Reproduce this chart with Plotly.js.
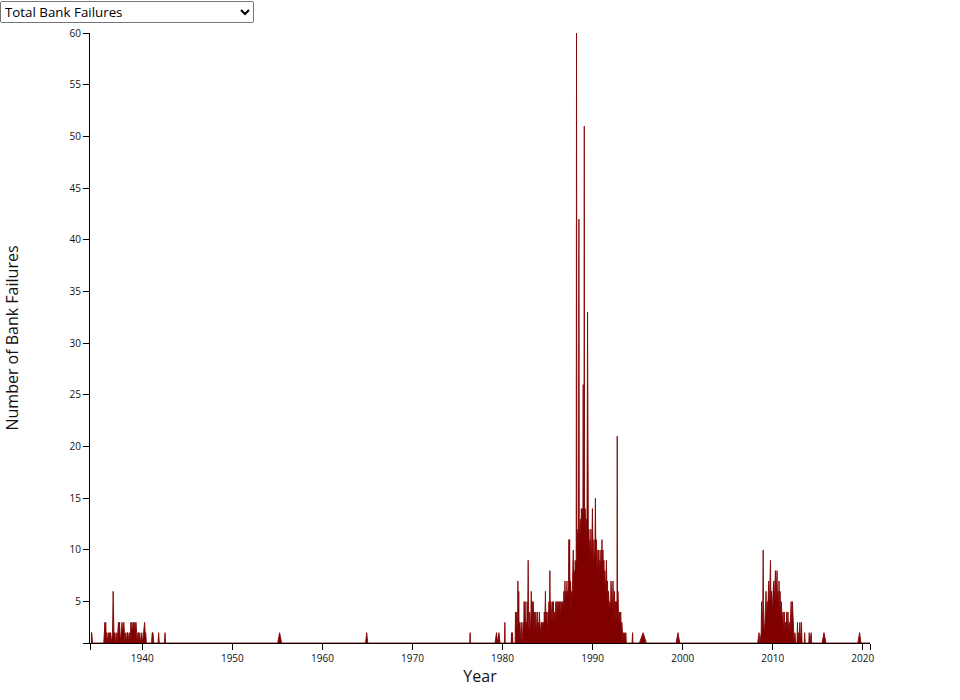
<!DOCTYPE html>
<html>
<head>
<meta charset="utf-8">
<script src="https://cdn.plot.ly/plotly-3.0.1.min.js"></script>
<style>
  html, body { margin: 0; padding: 0; background: #fff; }
  #wrap { position: relative; width: 960px; height: 700px; }
  #chart { position: absolute; left: 0; top: 0; width: 960px; height: 700px; }
  #metric { position: absolute; left: 0; top: 1px; width: 254px; height: 22px; font-family: "Open Sans", sans-serif; font-size: 13.33px; z-index: 10; }
</style>
</head>
<body>
<div id="wrap">
  <div id="chart"></div>
  <select id="metric"><option>Total Bank Failures</option></select>
</div>
<script>
// Daily bank failure counts: [date, failures]
const earlyFailures = [
  ["1934-04-19",2],["1934-05-25",2],["1934-06-20",1],
  ["1935-09-20",1],["1935-10-15",2],["1935-11-05",3],["1935-11-20",2],["1935-12-10",3],["1935-12-25",2],
  ["1936-01-15",2],["1936-02-05",1],["1936-02-25",2],["1936-03-20",2],["1936-04-10",1],["1936-05-05",2],
  ["1936-06-01",1],["1936-06-25",2],["1936-07-20",1],["1936-08-15",2],["1936-09-10",2],["1936-10-05",6],
  ["1936-10-20",2],["1936-11-15",1],["1936-12-10",2],["1937-01-05",1],["1937-02-10",2],["1937-03-10",1],
  ["1937-04-10",2],["1937-05-10",3],["1937-05-30",2],["1937-06-25",3],["1937-07-15",1],["1937-08-10",2],
  ["1937-09-05",2],["1937-10-01",3],["1937-10-25",2],["1937-11-20",3],["1937-12-15",3],["1938-01-05",2],
  ["1938-02-01",1],["1938-03-01",2],["1938-04-01",1],["1938-05-01",2],["1938-06-01",2],["1938-07-01",1],
  ["1938-08-01",2],["1938-09-01",1],["1938-09-25",3],["1938-10-15",2],["1938-11-10",3],["1938-12-01",2],
  ["1938-12-25",3],["1939-01-15",3],["1939-02-10",2],["1939-03-05",3],["1939-03-25",2],["1939-04-20",3],
  ["1939-05-15",2],["1939-06-10",1],["1939-07-05",2],["1939-08-01",2],["1939-08-25",1],["1939-09-20",2],
  ["1939-10-20",1],["1939-11-15",2],["1939-12-10",2],["1940-01-10",1],["1940-02-10",2],["1940-03-10",2],
  ["1940-04-05",3],["1940-04-25",2],["1940-05-20",2],["1940-06-15",1],["1941-01-10",1],["1941-02-05",2],
  ["1941-03-10",2],["1941-04-05",1],["1941-10-01",1],["1941-10-25",2],["1941-11-20",1],["1942-06-15",1],
  ["1942-07-10",2],["1942-08-05",1],["1943-03-01",1],
  ["1955-01-10",1],["1955-04-01",2],["1955-06-20",1],
  ["1964-10-15",1],["1964-12-01",2],["1965-01-15",1],
  ["1976-05-10",1],["1976-05-25",2],["1976-06-10",1]
];

const crisisFailures = [
  ["1979-03-01",1],["1979-05-01",2],["1979-06-15",1],["1979-08-10",2],["1979-09-20",1],["1979-11-20",1],
  ["1980-03-20",1],["1980-04-05",3],["1980-04-20",1],
  ["1980-12-15",1],["1981-01-01",2],["1981-01-20",1],["1981-02-05",2],["1981-02-20",1],
  ["1981-05-25",1],["1981-06-10",4],["1981-06-25",2],["1981-07-15",3],["1981-08-01",4],["1981-08-15",2],
  ["1981-09-01",1],["1981-09-15",7],["1981-10-01",2],["1981-10-20",6],["1981-11-05",2],["1981-11-25",3],
  ["1981-12-15",1],
  ["1982-01-05",2],["1982-01-25",3],["1982-02-15",2],["1982-03-05",1],["1982-03-25",2],["1982-04-15",3],
  ["1982-05-05",2],["1982-05-25",5],["1982-06-15",3],["1982-07-05",5],["1982-07-25",2],["1982-08-15",3],
  ["1982-09-05",2],["1982-09-25",5],["1982-10-15",3],["1982-11-05",9],["1982-11-25",3],["1982-12-15",2],
  ["1983-01-05",4],["1983-01-25",3],["1983-02-15",2],["1983-03-10",6],["1983-03-30",3],["1983-04-20",5],
  ["1983-05-10",2],["1983-05-30",5],["1983-06-20",3],["1983-07-10",4],["1983-07-30",2],["1983-08-20",3],
  ["1983-09-10",4],["1983-10-01",2],["1983-10-20",3],["1983-11-10",4],["1983-12-01",2],["1983-12-20",3],
  ["1984-01-10",2],["1984-02-01",4],["1984-02-20",3],["1984-03-10",2],["1984-04-01",3],["1984-04-20",3],
  ["1984-05-10",2],["1984-06-01",3],["1984-06-20",2],["1984-07-10",3],["1984-08-01",2],["1984-08-20",4],
  ["1984-09-10",3],["1984-10-05",6],["1984-10-25",3],["1984-11-15",4],["1984-12-05",3],["1984-12-25",2],
  ["1985-01-15",4],["1985-02-05",3],["1985-02-25",5],["1985-03-15",3],["1985-04-05",8],["1985-04-25",3],
  ["1985-05-15",5],["1985-06-05",4],["1985-06-25",3],["1985-07-15",5],["1985-08-05",4],["1985-08-25",5],
  ["1985-09-15",3],["1985-10-05",4],["1985-10-25",3],["1985-11-15",4],["1985-12-05",5],["1985-12-25",3],
  ["1986-01-15",5],["1986-02-05",4],["1986-02-25",5],["1986-03-15",3],["1986-04-05",5],["1986-04-25",4],
  ["1986-05-15",5],["1986-06-05",3],["1986-06-25",5],["1986-07-15",4],["1986-08-05",5],["1986-08-25",4],
  ["1986-09-15",5],["1986-10-05",4],["1986-10-25",6],["1986-11-15",4],["1986-12-05",7],["1986-12-25",5],
  ["1987-01-15",6],["1987-02-05",5],["1987-02-25",7],["1987-03-15",5],["1987-04-05",6],["1987-04-25",5],
  ["1987-05-15",11],["1987-05-30",6],["1987-06-15",11],["1987-07-01",5],["1987-07-20",7],["1987-08-05",4],
  ["1987-08-25",6],["1987-09-15",5],["1987-10-05",7],["1987-10-25",6],["1987-11-10",10],["1987-11-25",6],
  ["1987-12-15",8],
  ["1988-01-05",7],["1988-01-25",9],["1988-02-15",8],["1988-03-05",9],["1988-03-20",60],["1988-04-05",10],
  ["1988-04-25",11],["1988-05-15",12],["1988-06-05",10],["1988-06-25",42],["1988-07-10",11],["1988-07-30",12],
  ["1988-08-20",13],["1988-09-10",11],["1988-09-30",14],["1988-10-20",13],["1988-11-10",14],["1988-12-01",12],
  ["1988-12-15",26],["1988-12-30",13],
  ["1989-01-15",14],["1989-01-28",51],["1989-02-10",13],["1989-02-18",48],["1989-03-05",14],["1989-03-22",13],
  ["1989-04-05",12],["1989-04-25",13],["1989-05-15",11],["1989-06-10",33],["1989-06-25",12],["1989-07-15",10],
  ["1989-08-05",12],["1989-08-25",9],["1989-09-15",11],["1989-10-05",8],["1989-10-25",12],["1989-11-15",9],
  ["1989-12-05",11],["1989-12-25",14],
  ["1990-01-15",10],["1990-02-05",8],["1990-02-25",11],["1990-03-15",9],["1990-04-05",10],["1990-04-25",15],
  ["1990-05-15",9],["1990-06-05",11],["1990-06-25",9],["1990-07-15",7],["1990-08-05",10],["1990-08-25",8],
  ["1990-09-15",10],["1990-10-05",7],["1990-10-25",9],["1990-11-15",8],["1990-12-05",10],["1990-12-25",7],
  ["1991-01-15",11],["1991-02-05",8],["1991-02-25",10],["1991-03-15",7],["1991-04-05",9],["1991-04-25",6],
  ["1991-05-15",8],["1991-06-05",6],["1991-06-25",7],["1991-07-15",9],["1991-08-05",6],["1991-08-25",7],
  ["1991-09-15",5],["1991-10-05",6],["1991-10-25",5],["1991-11-15",4],["1991-12-05",5],["1991-12-25",4],
  ["1992-01-15",7],["1992-02-05",5],["1992-02-25",6],["1992-03-15",4],["1992-04-05",7],["1992-04-25",5],
  ["1992-05-15",4],["1992-06-05",6],["1992-06-25",3],["1992-07-15",5],["1992-08-05",4],["1992-08-25",5],
  ["1992-09-15",3],["1992-09-25",21],["1992-10-05",3],["1992-10-25",6],["1992-11-15",4],["1992-12-05",3],
  ["1993-01-05",4],["1993-01-25",3],["1993-02-15",4],["1993-03-10",2],["1993-04-01",3],["1993-04-25",2],
  ["1993-05-20",1],["1993-06-10",2],["1993-07-01",1],["1993-07-25",2],["1993-08-15",1],["1993-09-10",2],
  ["1993-10-01",1],
  ["1994-05-20",1],["1994-06-10",2],["1994-06-25",1],
  ["1995-03-15",1],["1995-08-10",2],["1995-12-20",1]
];

const laterFailures = [
  ["1999-04-10",1],["1999-06-25",2],["1999-09-05",1],
  ["2008-05-01",1],["2008-06-25",2],["2008-08-01",1],["2008-09-20",2],["2008-10-05",5],["2008-10-25",3],
  ["2008-11-20",4],["2008-12-10",10],["2008-12-25",3],["2009-01-20",2],["2009-02-15",3],["2009-03-10",4],
  ["2009-04-05",6],["2009-04-25",3],["2009-05-20",5],["2009-06-10",4],["2009-07-01",5],["2009-07-25",7],
  ["2009-08-15",4],["2009-09-05",6],["2009-10-01",9],["2009-10-20",5],["2009-11-10",6],["2009-12-05",5],
  ["2009-12-25",4],["2010-01-15",6],["2010-02-15",7],["2010-03-05",5],["2010-03-25",6],["2010-04-20",8],
  ["2010-05-10",5],["2010-06-01",6],["2010-06-25",8],["2010-07-15",5],["2010-08-05",6],["2010-08-25",4],
  ["2010-09-15",7],["2010-10-05",3],["2010-10-25",6],["2010-11-15",4],["2010-12-10",5],["2011-01-05",4],
  ["2011-01-25",3],["2011-02-25",4],["2011-03-20",2],["2011-04-15",4],["2011-05-10",2],["2011-06-05",3],
  ["2011-07-01",2],["2011-07-25",4],["2011-08-15",2],["2011-09-10",4],["2011-10-05",2],["2011-11-01",3],
  ["2011-11-25",2],["2012-01-20",5],["2012-02-10",2],["2012-03-10",5],["2012-04-05",3],["2012-05-01",2],
  ["2012-06-01",1],["2012-06-20",2],["2012-07-20",1],["2012-09-10",1],["2012-10-01",3],["2012-10-20",1],
  ["2012-11-15",2],["2012-12-10",1],["2013-01-05",3],["2013-01-25",1],["2013-03-10",3],["2013-04-05",1],
  ["2013-07-01",1],["2013-07-20",2],["2013-08-10",1],["2014-01-01",1],["2014-01-20",2],["2014-02-10",1],
  ["2014-04-10",2],["2014-05-01",1],
  ["2015-06-25",1],["2015-09-10",2],["2015-12-01",1],
  ["2019-06-15",1],["2019-08-25",2],["2019-10-20",1],["2020-10-20",1]
];

const xRange = ["1934-03-12", "2020-10-20"];
const yearTickLabels = ["1940","1950","1960","1970","1980","1990","2000","2010","2020"];
const countTickLabels = ["5","10","15","20","25","30","35","40","45","50","55","60"];

const allFailures = earlyFailures.concat(crisisFailures, laterFailures);
const dates = allFailures.map(d => d[0]);
const counts = allFailures.map(d => d[1]);

const xTickVals = [xRange[0]].concat(yearTickLabels.map(y => y + "-01-01"), [xRange[1]]);
const xTickText = [""].concat(yearTickLabels, [""]);
const yTickVals = [1].concat(countTickLabels.map(Number));
const yTickText = [""].concat(countTickLabels);

const trace = {
  type: "scatter",
  mode: "lines",
  x: dates,
  y: counts,
  fill: "tozeroy",
  fillcolor: "#800000",
  line: { color: "rgba(128,0,0,0.85)", width: 1 },
  hoverinfo: "x+y"
};

const layout = {
  width: 960,
  height: 700,
  margin: { l: 90, r: 90, t: 33, b: 57, pad: 0 },
  paper_bgcolor: "#fff",
  plot_bgcolor: "#fff",
  showlegend: false,
  font: { family: '"Open Sans", sans-serif', size: 10, color: "#111" },
  xaxis: {
    type: "date",
    range: xRange,
    tickmode: "array",
    tickvals: xTickVals,
    ticktext: xTickText,
    ticks: "outside",
    ticklen: 6,
    tickwidth: 1,
    tickcolor: "#000",
    showline: true,
    linecolor: "#000",
    linewidth: 1,
    showgrid: false,
    zeroline: false,
    tickfont: { size: 10 },
    title: { text: "Year", font: { size: 16, color: "#111" }, standoff: 6 }
  },
  yaxis: {
    range: [1, 60],
    tickmode: "array",
    tickvals: yTickVals,
    ticktext: yTickText,
    ticks: "outside",
    ticklen: 6,
    tickwidth: 1,
    tickcolor: "#000",
    showline: true,
    linecolor: "#000",
    linewidth: 1,
    showgrid: false,
    zeroline: false,
    tickfont: { size: 10 },
    title: { text: "Number of Bank Failures", font: { size: 16, color: "#111" }, standoff: 46 }
  }
};

Plotly.newPlot("chart", [trace], layout, { displayModeBar: false });
</script>
</body>
</html>
